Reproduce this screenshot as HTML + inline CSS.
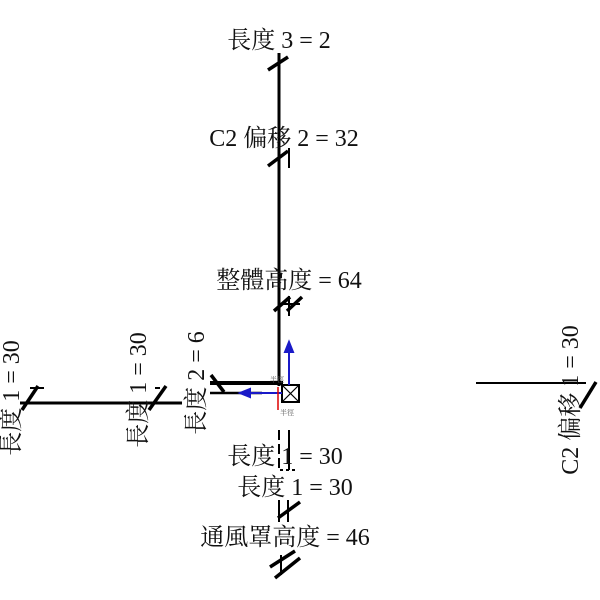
<!DOCTYPE html>
<html><head><meta charset="utf-8"><style>
body{margin:0;background:#fff}
svg{display:block}
text{font-family:"Liberation Serif","Noto Serif CJK SC","Noto Sans CJK TC",serif;font-size:24px;fill:#111}
</style></head><body>
<svg width="600" height="600" viewBox="0 0 600 600">
<g stroke="#000" fill="none">
<line x1="279" y1="53" x2="279" y2="386" stroke-width="3"/>
<line x1="210" y1="383" x2="283" y2="383" stroke-width="4"/>
<line x1="210" y1="393" x2="262" y2="393" stroke-width="2.5"/>
<line x1="20" y1="403" x2="182" y2="403" stroke-width="3"/>
<line x1="476" y1="383" x2="586" y2="383" stroke-width="2"/>
<rect x="282" y="385" width="17" height="17" stroke-width="2"/>
<line x1="282" y1="385" x2="299" y2="402" stroke-width="1.2"/>
<line x1="299" y1="385" x2="282" y2="402" stroke-width="1.2"/>
<g stroke-width="3.5">
<line x1="268" y1="70" x2="288" y2="57"/>
<line x1="268" y1="166" x2="288" y2="151"/>
<line x1="274" y1="311" x2="290" y2="297"/>
<line x1="287" y1="311" x2="302" y2="297"/>
<line x1="211" y1="375" x2="224" y2="392"/>
<line x1="22" y1="410" x2="38" y2="386"/>
<line x1="149" y1="410" x2="166" y2="386"/>
<line x1="580" y1="408" x2="596" y2="382"/>
<line x1="278" y1="518" x2="300" y2="502"/>
<line x1="270" y1="567" x2="295" y2="551"/>
<line x1="275" y1="578" x2="300" y2="558"/>
</g>
<g stroke-width="2">
<line x1="289" y1="148" x2="289" y2="168"/>
<line x1="289" y1="296" x2="289" y2="316"/>
<line x1="279" y1="304" x2="300" y2="304"/>
<line x1="30" y1="388" x2="44" y2="388"/>
<line x1="155" y1="388" x2="160" y2="388"/>
<line x1="279" y1="500" x2="279" y2="522"/>
<line x1="288" y1="500" x2="288" y2="522"/>
<line x1="281" y1="555" x2="281" y2="575"/>
</g>
<line x1="279" y1="430" x2="279" y2="470" stroke-width="2" stroke-dasharray="10,4"/>
<line x1="289" y1="430" x2="289" y2="470" stroke-width="2"/>
<line x1="280" y1="470" x2="297" y2="470" stroke-width="2" stroke-dasharray="3,3"/>
</g>
<g stroke="#1a1ac8" stroke-width="2" fill="#1a1ac8">
<line x1="289" y1="385" x2="289" y2="350"/>
<polygon points="285,352 293,352 289,342"/>
<line x1="282" y1="393" x2="248" y2="393"/>
<polygon points="250,389 250,397 240,393"/>
</g>
<line x1="278" y1="387" x2="278" y2="410" stroke="#d00" stroke-width="1.5"/>
<text x="270" y="382" style="font-size:7px;fill:#555">半徑</text>
<text x="280" y="415" style="font-size:7px;fill:#555">半徑</text>
<text x="279" y="48" text-anchor="middle">長度 3 = 2</text>
<text x="284" y="146" text-anchor="middle">C2 偏移 2 = 32</text>
<text x="289" y="288" text-anchor="middle">整體高度 = 64</text>
<text x="285" y="464" text-anchor="middle">長度 1 = 30</text>
<text x="295" y="495" text-anchor="middle">長度 1 = 30</text>
<text x="285" y="545" text-anchor="middle">通風罩高度 = 46</text>
<text transform="translate(19,398) rotate(-90)" text-anchor="middle">長度 1 = 30</text>
<text transform="translate(146,390) rotate(-90)" text-anchor="middle">長度 1 = 30</text>
<text transform="translate(204,383) rotate(-90)" text-anchor="middle">長度 2 = 6</text>
<text transform="translate(578,400) rotate(-90)" text-anchor="middle">C2 偏移 1 = 30</text>
</svg>
</body></html>
